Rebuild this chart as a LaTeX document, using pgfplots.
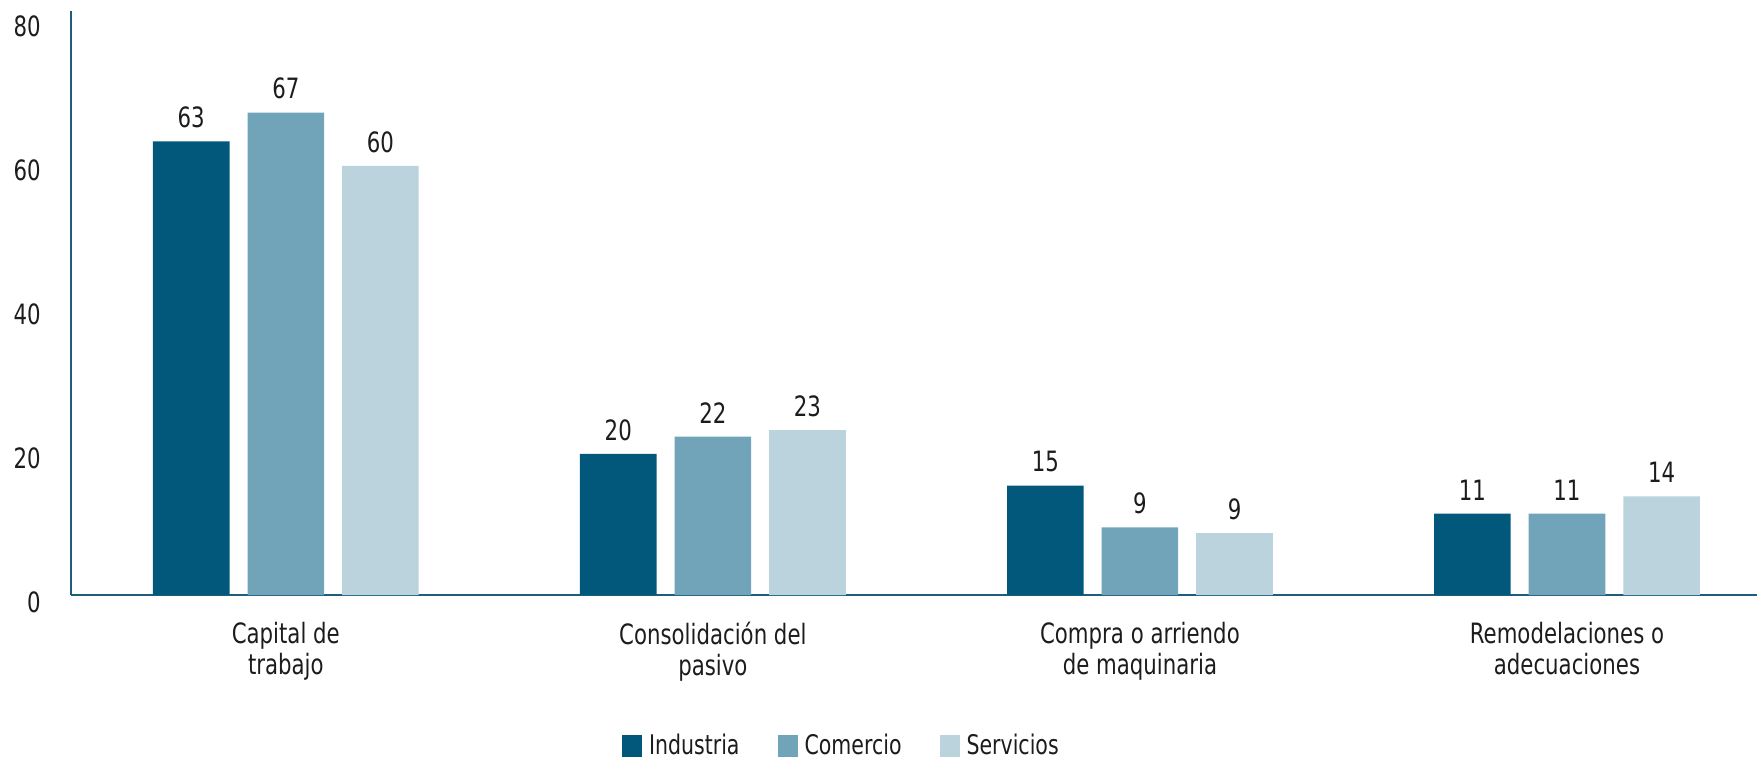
\documentclass[border=0pt]{standalone}
\usepackage{fontspec}
\setmainfont[FakeStretch=0.76]{DejaVu Sans}
\usepackage{pgfplots}
\pgfplotsset{compat=1.18}
\definecolor{ind}{HTML}{02587B}
\definecolor{com}{HTML}{72A4B9}
\definecolor{ser}{HTML}{BBD3DD}
\definecolor{axc}{HTML}{1E5E7C}
\definecolor{txt}{HTML}{1C1C1C}

\begin{document}
\begin{tikzpicture}
\begin{axis}[
    scale only axis,
    width=843pt, height=292pt,
    ybar=9pt, bar width=38.3pt,
    xmin=-0.503, xmax=3.445,
    ymin=0, ymax=81.1,
    axis x line*=bottom, axis y line*=left,
    axis line style={-, axc, line width=1pt},
    major tick length=0pt,
    ytick={0,20,40,60,80},
    xtick={0,1,2,3},
    xticklabels={{Capital de\\trabajo},{Consolidación del\\pasivo},{Compra o arriendo\\de maquinaria},{Remodelaciones o\\adecuaciones}},
    /pgf/number format/assume math mode=true,
    every tick label/.append style={font=\fontsize{14}{15.5}\selectfont, text=txt},
    yticklabel style={inner sep=0pt, anchor=east, xshift=-15pt, yshift=-3.5pt},
    xticklabel style={align=center, inner sep=0pt, anchor=north, yshift=-13.5pt},
    nodes near coords={\pgfmathprintnumber[fixed,precision=0]{\pgfplotspointmeta}},
    every node near coord/.append style={font=\fontsize{14}{15.5}\selectfont, text=txt, inner sep=0pt, anchor=south, yshift=6.5pt},
    legend columns=-1,
    legend style={draw=none, at={(0.4575,-0.258)}, anchor=center,
        font=\fontsize{13.5}{15}\selectfont, text=txt,
        /tikz/every odd column/.append style={column sep=1.5pt},
        /tikz/every even column/.append style={column sep=17pt}},
    legend image code/.code={\fill[#1] (0pt,-5.5pt) rectangle (10pt,5.5pt);},
]
\addplot[draw=none, fill=ind] coordinates {(0,63) (1,19.6) (2,15.2) (3,11.3)};
\addplot[draw=none, fill=com] coordinates {(0,67) (1,22) (2,9.4) (3,11.3)};
\addplot[draw=none, fill=ser] coordinates {(0,59.6) (1,22.9) (2,8.6) (3,13.7)};
\legend{Industria,Comercio,Servicios}
\end{axis}
\pgfresetboundingbox
\path (-35.5pt,-82.5pt) rectangle (846.5pt,297.5pt);
\end{tikzpicture}
\end{document}
